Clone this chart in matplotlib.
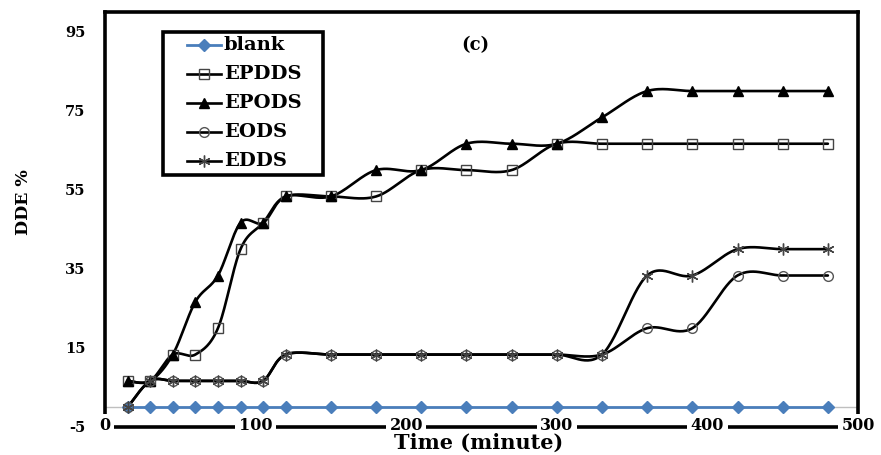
import numpy as np
import matplotlib
matplotlib.use("Agg")
import matplotlib.pyplot as plt
from matplotlib.lines import Line2D
from matplotlib.patches import Rectangle

plt.rcParams["axes.unicode_minus"] = False

# Sampling times (minutes) and DDE removal (%) for each system
time_min = [15, 30, 45, 60, 75, 90, 105, 120, 150, 180,
            210, 240, 270, 300, 330, 360, 390, 420, 450, 480]
blank = [0] * 20
epdds = [6.67, 6.67, 13.33, 13.33, 20, 40, 46.67, 53.33, 53.33, 53.33,
         60, 60, 60, 66.67, 66.67, 66.67, 66.67, 66.67, 66.67, 66.67]
epods = [6.67, 6.67, 13.33, 26.67, 33.33, 46.67, 46.67, 53.33, 53.33, 60,
         60, 66.67, 66.67, 66.67, 73.33, 80, 80, 80, 80, 80]
eods = [0, 6.67, 6.67, 6.67, 6.67, 6.67, 6.67, 13.33, 13.33, 13.33,
        13.33, 13.33, 13.33, 13.33, 13.33, 20, 20, 33.33, 33.33, 33.33]
edds = [0, 6.67, 6.67, 6.67, 6.67, 6.67, 6.67, 13.33, 13.33, 13.33,
        13.33, 13.33, 13.33, 13.33, 13.33, 33.33, 33.33, 40, 40, 40]

x_ticks = [0, 100, 200, 300, 400, 500]
y_ticks = [-5, 15, 35, 55, 75, 95]

FONT = "DejaVu Serif"


def smooth(x, y, steps=30):
    """Cubic Bezier smoothing through every point (Catmull-Rom style)."""
    x = np.asarray(x, float)
    y = np.asarray(y, float)
    n = len(x)
    t = np.linspace(0, 1, steps)[:, None]
    pts = np.column_stack([x, y])
    out = []
    for i in range(n - 1):
        p0 = pts[i]
        p3 = pts[i + 1]
        c1 = p0 + (pts[i + 1] - pts[max(i - 1, 0)]) / 6.0
        c2 = p3 - (pts[min(i + 2, n - 1)] - pts[i]) / 6.0
        seg = ((1 - t) ** 3) * p0 + 3 * ((1 - t) ** 2) * t * c1 \
            + 3 * (1 - t) * (t ** 2) * c2 + (t ** 3) * p3
        out.append(seg if i == 0 else seg[1:])
    out = np.vstack(out)
    return out[:, 0], out[:, 1]


W, H = 881, 455
fig = plt.figure(figsize=(W / 100, H / 100), dpi=100)
ax = fig.add_axes([105 / W, 1 - 427 / H, (858 - 105) / W, (427 - 12) / H])
ax.set_xlim(0, 500)
ax.set_ylim(-5, 100)

# light reference line at zero
ax.axhline(0, color="#BFBFBF", lw=1.0, zorder=1)

blue = "#4A7EBB"
series = [
    ("blank", blank, dict(color=blue, marker="D", ms=6, mfc=blue, mec=blue)),
    ("EPDDS", epdds, dict(color="black", marker="s", ms=7, mfc="none",
                          mec="#444444", mew=1.0)),
    ("EPODS", epods, dict(color="black", marker="^", ms=7, mfc="black",
                          mec="black")),
    ("EODS", eods, dict(color="black", marker="o", ms=7, mfc="none",
                        mec="#555555", mew=1.0)),
    ("EDDS", edds, dict(color="black", marker=(6, 2, 0), ms=8.5,
                        mec="#444444", mew=1.0)),
]

for name, vals, st in series:
    lw = 2.0 if name == "blank" else 1.9
    sx, sy = smooth(time_min, vals)
    ax.plot(sx, sy, color=st["color"], lw=lw, zorder=2, solid_capstyle="round")
    mk = {k: v for k, v in st.items() if k != "color"}
    ax.plot(time_min, vals, ls="none", zorder=3, **mk)

# frame
for side in ["left", "right", "top", "bottom"]:
    ax.spines[side].set_linewidth(2.6)
    ax.spines[side].set_color("black")
ax.spines["right"].set_bounds(-2.5, 100)

ax.set_xticks(x_ticks)
ax.set_yticks(y_ticks)
ax.tick_params(axis="both", length=0)
ax.tick_params(axis="y", pad=14)
ax.tick_params(axis="x", pad=-7)
ax.xaxis.set_zorder(3.5)
for lab in ax.get_yticklabels():
    lab.set_fontfamily(FONT)
    lab.set_fontweight("bold")
    lab.set_fontsize(10.5)
for lab in ax.get_xticklabels():
    lab.set_fontfamily(FONT)
    lab.set_fontweight("bold")
    lab.set_fontsize(11.5)
    lab.set_bbox(dict(facecolor="white", edgecolor="none", pad=2.5))

fig.text(475 / W, 1 - 45 / H, "(c)", ha="center", va="center",
         family=FONT, weight="bold", fontsize=13)
fig.text(479 / W, 1 - 443 / H, "Time (minute)", ha="center", va="center",
         family=FONT, weight="bold", fontsize=15)
fig.text(23 / W, 1 - 202 / H, "DDE %", ha="center", va="center",
         rotation=90, family=FONT, weight="bold", fontsize=12.5)

# legend box with one row per series
box_l, box_t, box_r, box_b = 163, 32, 323, 175
fig.add_artist(Rectangle((box_l / W, 1 - box_b / H),
                         (box_r - box_l) / W, (box_b - box_t) / H,
                         transform=fig.transFigure, facecolor="white",
                         edgecolor="black", lw=2.6, zorder=5))
for i, (name, vals, st) in enumerate(series):
    yy = 1 - (45 + 29 * i) / H
    lw = 2.0 if name == "blank" else 1.9
    fig.add_artist(Line2D([187 / W, 221 / W], [yy, yy], color=st["color"],
                          lw=lw, transform=fig.transFigure, zorder=6))
    mk = {k: v for k, v in st.items() if k != "color"}
    fig.add_artist(Line2D([204 / W], [yy], ls="none",
                          transform=fig.transFigure, zorder=7, **mk))
    fig.text(224 / W, yy, name, ha="left", va="center", family=FONT,
             weight="bold", fontsize=14, zorder=8)

fig.savefig("out.png", dpi=100)
